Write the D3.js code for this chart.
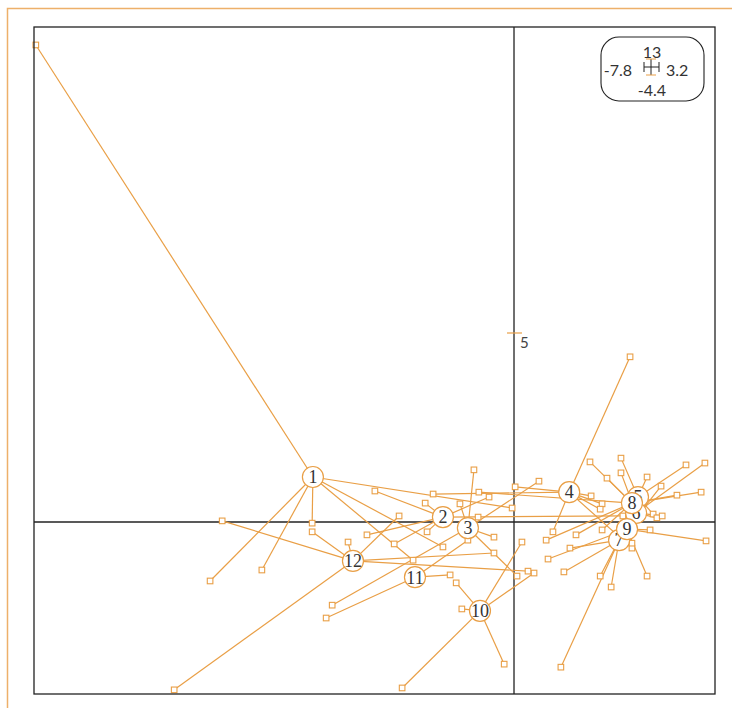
<!DOCTYPE html>
<html><head><meta charset="utf-8">
<script src="https://cdn.jsdelivr.net/npm/d3@7"></script>
<style>body{margin:0;background:#fff}</style>
</head><body><svg id="c" width="732" height="708"></svg>
<script>
// ---- data (plane coordinates) ----
const classLabels = ["1","2","3","4","5","6","7","8","9","10","11","12"];
const centerX = [-5.32,-1.88,-1.22,1.46,3.28,3.23,2.78,3.12,2.99,-0.90,-2.62,-4.26];
const centerY = [1.19,0.13,-0.16,0.79,0.66,0.24,-0.48,0.50,-0.19,-2.35,-1.46,-1.03];

const pointX = [
  -12.65,-8.04,-6.67,-5.34,-0.05,-1.88,-2.67,            // 1
  -3.68,-2.35,-0.66,-3.89,-2.30,-3.17,2.88,               // 2
  -1.06,0.66,-0.95,-0.53,0.08,-4.81,-1.43,                // 3
  3.07,-2.14,0.03,1.03,2.04,2.33,2.28,3.12,               // 4
  2.83,3.52,4.55,3.68,2.33,                               // 5
  3.78,3.92,5.05,2.83,                                    // 6
  2.28,2.57,1.24,1.32,1.48,                               // 7
  2.01,2.46,4.31,4.95,0.85,1.64,-0.93,                    // 8
  3.60,3.12,0.90,3.89,5.08,3.52,                          // 9
  -1.53,-1.38,-2.96,-0.26,0.53,0.21,                      // 10
  -1.69,-4.97,-1.22,                                      // 11
  -5.34,-4.39,-3.04,-7.72,-8.99,-0.53,0.37                // 12
];
const pointY = [
  12.62,-1.56,-1.27,-0.03,0.37,-0.66,-1.01,
  0.82,0.50,0.66,-0.34,-0.26,-0.58,0.16,
  1.38,1.08,0.13,-0.40,-1.43,-2.20,0.48,
  4.37,0.74,0.93,-0.26,0.69,0.48,0.34,-0.69,
  1.69,1.19,1.51,0.21,-0.21,
  0.11,0.16,1.56,1.30,
  -1.43,-1.72,-3.84,-1.32,-0.69,
  1.59,1.16,0.71,0.79,-0.48,-0.34,0.79,
  -0.21,-0.56,-0.98,0.95,-0.50,-1.43,
  -1.61,-2.30,-4.39,-3.76,-1.35,-0.53,
  -1.40,-2.54,-0.48,
  -0.26,-0.53,0.16,0.03,-4.44,-0.82,-1.30
];
const pointClass = [
  1,1,1,1,1,1,1,
  2,2,2,2,2,2,2,
  3,3,3,3,3,3,3,
  4,4,4,4,4,4,4,4,
  5,5,5,5,5,
  6,6,6,6,
  7,7,7,7,7,
  8,8,8,8,8,8,8,
  9,9,9,9,9,9,
  10,10,10,10,10,10,
  11,11,11,
  12,12,12,12,12,12,12
];
const gridTickY = [5];
const rangeLabels = {top:"13", left:"-7.8", right:"3.2", bottom:"-4.4"};

// ---- drawing ----
const orange = "#E99F46";
const ink = "#333333";
const sans = "Lato, 'Open Sans', sans-serif";
const serif = "'Liberation Serif', 'DejaVu Serif', serif";
const svg = d3.select("#c");

const x = d3.scaleLinear().domain([-12.698, 5.317]).range([34, 715]);
const y = d3.scaleLinear().domain([-4.55, 13.095]).range([694, 27]);

// outer frame (partial, orange)
svg.append("path").attr("d","M7.5,708 V8.5 H732").attr("fill","none")
  .attr("stroke","#EDB06A").attr("stroke-width",1.5);

// axes through origin
svg.append("line").attr("x1",x.range()[0]).attr("x2",x.range()[1])
  .attr("y1",y(0)).attr("y2",y(0)).attr("stroke","#222").attr("stroke-width",1.3);
svg.append("line").attr("x1",x(0)).attr("x2",x(0))
  .attr("y1",y.range()[0]).attr("y2",y.range()[1]).attr("stroke","#222").attr("stroke-width",1.3);

// grid tick on vertical axis
gridTickY.forEach(v=>{
  svg.append("line").attr("x1",x(0)-7).attr("x2",x(0)+8).attr("y1",y(v)).attr("y2",y(v))
    .attr("stroke",orange).attr("stroke-width",1.2);
  svg.append("text").attr("x",x(0)+6).attr("y",y(v)+15).text(v)
    .attr("font-family",sans).attr("font-size",15).attr("fill","#444");
});

// star lines
const pts = pointX.map((px,i)=>({x:px,y:pointY[i],c:pointClass[i]-1}));
svg.append("g").selectAll("line").data(pts).join("line")
  .attr("x1",d=>x(centerX[d.c])).attr("y1",d=>y(centerY[d.c]))
  .attr("x2",d=>x(d.x)).attr("y2",d=>y(d.y))
  .attr("stroke",orange).attr("stroke-width",1.2);

// points
svg.append("g").selectAll("rect").data(pts).join("rect")
  .attr("x",d=>x(d.x)-2.8).attr("y",d=>y(d.y)-2.8).attr("width",5.6).attr("height",5.6)
  .attr("fill","#fff").attr("stroke",orange).attr("stroke-width",1.1);

// class labels
const lab = svg.append("g").selectAll("g").data(classLabels).join("g")
  .attr("transform",(d,i)=>`translate(${x(centerX[i])},${y(centerY[i])})`);
lab.append("circle").attr("r",10.5).attr("fill","#fff").attr("stroke",orange).attr("stroke-width",1.2);
lab.append("text").text(d=>d).attr("text-anchor","middle").attr("dy","0.35em")
  .attr("font-family",serif).attr("font-size",18).attr("fill",ink);

// plot box
svg.append("rect").attr("x",34).attr("y",27).attr("width",681).attr("height",667)
  .attr("fill","none").attr("stroke","#222").attr("stroke-width",1.3);

// range legend box
const lg = svg.append("g");
lg.append("rect").attr("x",601).attr("y",37).attr("width",103).attr("height",64).attr("rx",18)
  .attr("fill","#fff").attr("stroke","#222").attr("stroke-width",1.1);
const cx=651, cy=67;
lg.append("line").attr("x1",cx-7).attr("x2",cx+8).attr("y1",cy).attr("y2",cy).attr("stroke","#222");
lg.append("line").attr("x1",cx-7).attr("x2",cx-7).attr("y1",cy-5).attr("y2",cy+5).attr("stroke","#222");
lg.append("line").attr("x1",cx+8).attr("x2",cx+8).attr("y1",cy-5).attr("y2",cy+5).attr("stroke","#222");
lg.append("line").attr("x1",cx).attr("x2",cx).attr("y1",cy-8).attr("y2",cy+8).attr("stroke","#222");
lg.append("line").attr("x1",cx-5).attr("x2",cx+5).attr("y1",cy-8).attr("y2",cy-8).attr("stroke",orange);
lg.append("line").attr("x1",cx-5).attr("x2",cx+5).attr("y1",cy+8).attr("y2",cy+8).attr("stroke",orange);
const lt = (t,xx,yy,a)=>lg.append("text").text(t).attr("x",xx).attr("y",yy).attr("text-anchor",a)
  .attr("font-family",sans).attr("font-size",16).attr("fill",ink);
lt(rangeLabels.top,652,58,"middle");
lt(rangeLabels.left,632,76,"end");
lt(rangeLabels.right,666,76,"start");
lt(rangeLabels.bottom,652,96,"middle");
</script></body></html>
